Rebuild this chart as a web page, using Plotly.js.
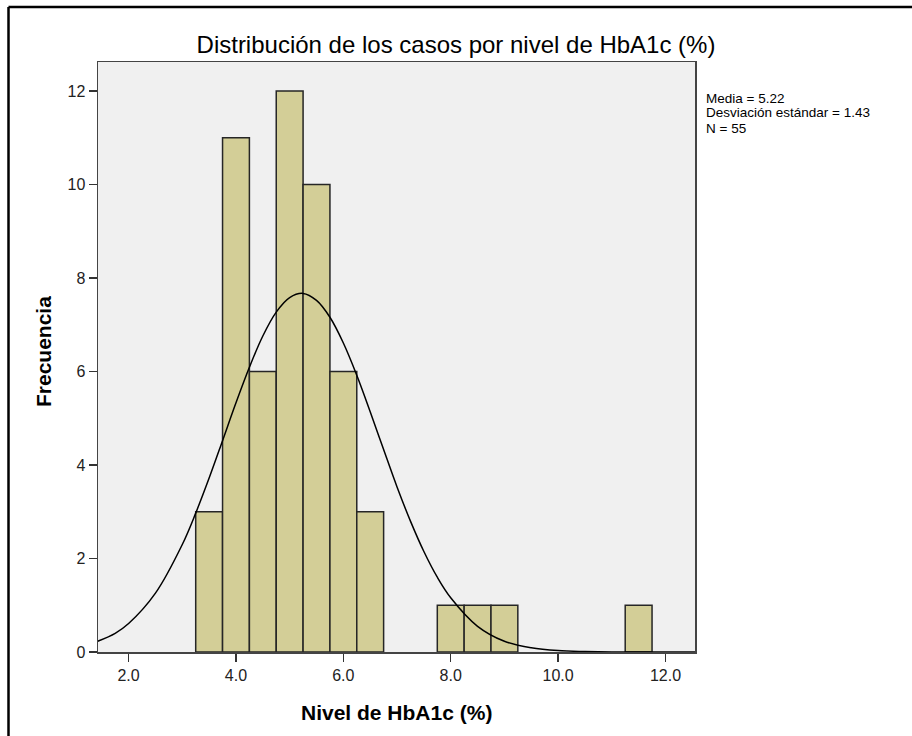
<!DOCTYPE html>
<html>
<head>
<meta charset="utf-8">
<script src="https://cdn.plot.ly/plotly-3.0.1.min.js"></script>
<style>html,body{margin:0;padding:0;background:#fff;overflow:hidden;}#chart{width:912px;height:736px;position:relative;}
#mask{position:absolute;left:906px;top:9px;width:6px;height:727px;background:#fff;z-index:10;}</style>
</head>
<body>
<div id="chart"></div>
<div id="mask"></div>
<script>
// Histogram bins (centers, width 0.5) and frequencies
const binCenters = [3.5, 4.0, 4.5, 5.0, 5.5, 6.0, 6.5, 8.0, 8.5, 9.0, 11.5];
const frequencies = [3, 11, 6, 12, 10, 6, 3, 1, 1, 1, 1];
const binWidth = 0.5;

// Normal curve
const curveX = [1.4, 1.75, 2.0, 2.5, 3.0, 3.25, 3.5, 3.75, 4.0, 4.25, 4.5, 4.75, 5.0, 5.25, 5.5, 5.75, 6.0, 6.25, 6.5, 6.75, 7.0, 7.25, 7.5, 7.75, 8.0, 8.5, 9.0, 9.5, 10.0, 10.5, 11.0, 11.5, 12.0, 12.6];
const curveY = [0.22, 0.40, 0.61, 1.26, 2.30, 2.97, 3.72, 4.52, 5.33, 6.09, 6.76, 7.27, 7.58, 7.67, 7.52, 7.16, 6.61, 5.92, 5.14, 4.33, 3.53, 2.80, 2.15, 1.60, 1.16, 0.55, 0.23, 0.09, 0.03, 0.01, 0.0, 0.0, 0.0, 0.0];

const xTicks = [2, 4, 6, 8, 10, 12];
const yTicks = [0, 2, 4, 6, 8, 10, 12];
const statsLines = ["Media = 5.22", "Desviación estándar = 1.43", "N = 55"];

const FONT = "Liberation Sans, Arial, sans-serif";

const traces = [
  {
    type: "bar",
    x: binCenters,
    y: frequencies,
    width: binCenters.map(() => binWidth),
    marker: { color: "#d3ce97", line: { color: "#262626", width: 1.5 } },
    hoverinfo: "skip",
    showlegend: false
  },
  {
    type: "scatter",
    mode: "lines",
    x: curveX,
    y: curveY,
    line: { color: "#000000", width: 1.5, shape: "spline", smoothing: 1 },
    hoverinfo: "skip",
    showlegend: false
  }
];

const W = 597, H = 590;
const annotations = [
  {
    text: "<b>Frecuencia</b>", textangle: -90,
    xref: "paper", yref: "paper", x: (43 - 98) / W, y: (652 - 352) / H,
    xanchor: "center", yanchor: "middle", showarrow: false,
    font: { family: FONT, size: 21, color: "#000" }
  },
  {
    text: "<b>Nivel de HbA1c (%)</b>",
    xref: "paper", yref: "paper", x: 0.5, y: (652 - 712) / H,
    xanchor: "center", yanchor: "middle", showarrow: false,
    font: { family: FONT, size: 21, color: "#000" }
  }
];
statsLines.forEach((t, i) => {
  annotations.push({
    text: t, xref: "paper", yref: "paper",
    x: (704 - 98) / W, y: (652 - (98 + 15 * i)) / H,
    xanchor: "left", yanchor: "middle", showarrow: false,
    font: { family: FONT, size: 13.5, color: "#000" }
  });
});

const frameX = (8.5 - 98) / W;
const frameY = (652 - 7) / H;

const layout = {
  width: 912, height: 736,
  margin: { l: 98, r: 217, t: 62, b: 84 },
  paper_bgcolor: "#ffffff",
  plot_bgcolor: "#f0f0f0",
  font: { family: FONT, size: 16, color: "#222" },
  title: {
    text: "Distribución de los casos por nivel de HbA1c (%)",
    font: { family: FONT, size: 24, color: "#000" },
    x: 0.5, xref: "container", xanchor: "center",
    y: 1 - 45 / 736, yref: "container", yanchor: "middle"
  },
  bargap: 0,
  xaxis: {
    range: [1.43, 12.55],
    tickvals: xTicks, tickformat: ".1f",
    ticks: "outside", ticklen: 8, tickwidth: 1.5, tickcolor: "#333",
    showline: true, linecolor: "#444", linewidth: 1.5, mirror: true,
    showgrid: false, zeroline: false,
    tickfont: { family: FONT, size: 16, color: "#222" }
  },
  yaxis: {
    range: [0, 12.62],
    tickvals: yTicks,
    ticks: "outside", ticklen: 8, tickwidth: 1.5, tickcolor: "#333",
    showline: true, linecolor: "#444", linewidth: 1.5, mirror: true,
    showgrid: false, zeroline: false,
    tickfont: { family: FONT, size: 16, color: "#222" }
  },
  annotations: annotations,
  shapes: [
    { type: "line", xref: "paper", yref: "paper", x0: frameX, x1: frameX, y0: -0.2, y1: frameY,
      line: { color: "#000", width: 2.5 } },
    { type: "line", xref: "paper", yref: "paper", x0: frameX, x1: (912 - 98) / W, y0: frameY, y1: frameY,
      line: { color: "#000", width: 2.5 } }
  ]
};

Plotly.newPlot("chart", traces, layout, { staticPlot: true, displayModeBar: false });
</script>
</body>
</html>
